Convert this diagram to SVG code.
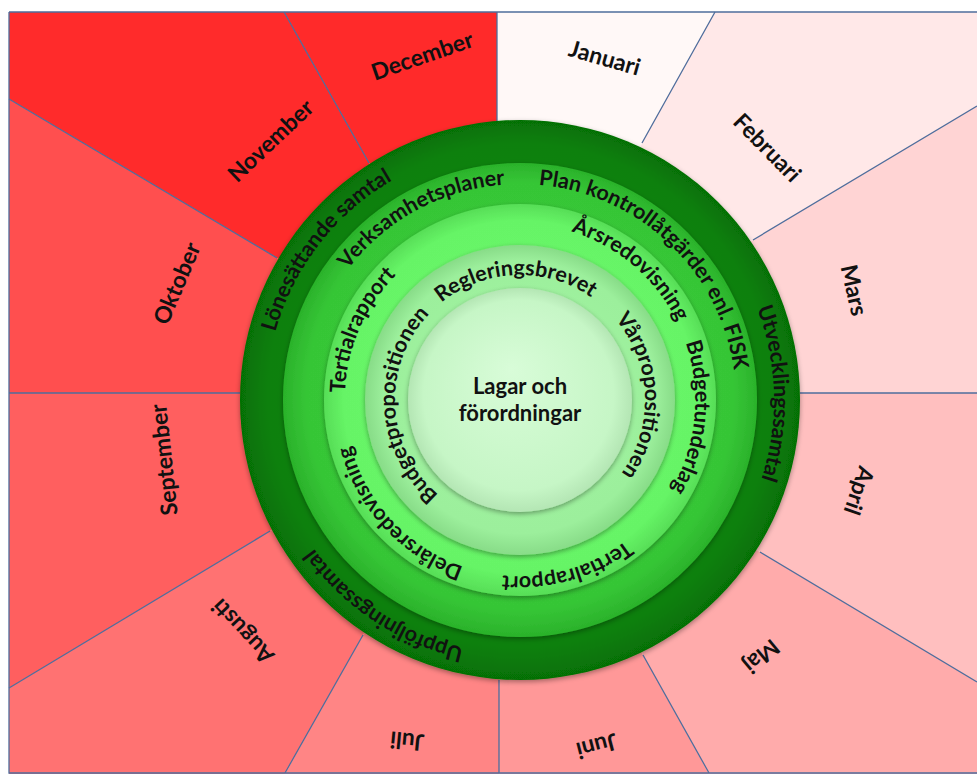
<svg xmlns="http://www.w3.org/2000/svg" width="977" height="774" viewBox="0 0 977 774">
<style>
.mo{font-family:Lato,"Liberation Sans",sans-serif;font-weight:700;font-size:23px;fill:#111;text-anchor:middle;dominant-baseline:central}
.rt{font-family:Lato,"Liberation Sans",sans-serif;font-weight:700;font-size:21.5px;fill:#111;text-anchor:middle}
.ct{font-family:Lato,"Liberation Sans",sans-serif;font-weight:700;font-size:22px;fill:#111;text-anchor:middle}
.sec{stroke:none}
.div{stroke:#4f6d9c;stroke-width:1.3;fill:none}
</style>
<defs>
<filter id="sh" x="-10%" y="-10%" width="120%" height="120%">
<feDropShadow dx="0" dy="2" stdDeviation="2.5" flood-color="#000" flood-opacity="0.35"/>
</filter>
<radialGradient id="g1" cx="50%" cy="50%" r="50%" fx="50%" fy="42%">
<stop offset="0" stop-color="#118d11"/><stop offset="0.9" stop-color="#0a800a"/><stop offset="1" stop-color="#067006"/>
</radialGradient>
<radialGradient id="g2" cx="50%" cy="50%" r="50%" fx="50%" fy="42%">
<stop offset="0" stop-color="#3ccc3c"/><stop offset="0.9" stop-color="#36c636"/><stop offset="1" stop-color="#2bb22b"/>
</radialGradient>
<radialGradient id="g3" cx="50%" cy="50%" r="50%" fx="50%" fy="42%">
<stop offset="0" stop-color="#6bfb6b"/><stop offset="0.9" stop-color="#66f466"/><stop offset="1" stop-color="#57de57"/>
</radialGradient>
<radialGradient id="g4" cx="50%" cy="50%" r="50%" fx="50%" fy="42%">
<stop offset="0" stop-color="#a3f5a3"/><stop offset="0.88" stop-color="#9cef9c"/><stop offset="1" stop-color="#88dc88"/>
</radialGradient>
<radialGradient id="g5" cx="50%" cy="50%" r="50%" fx="46%" fy="36%">
<stop offset="0" stop-color="#d8fcd8"/><stop offset="0.85" stop-color="#c6f6c6"/><stop offset="1" stop-color="#b4e6b4"/>
</radialGradient>
<path id="p1" d="M 266,400 A 254 254 0 1 1 774,400 A 254 254 0 1 1 266,400"/>
<path id="p2" d="M 304,400 A 216 216 0 1 1 736,400 A 216 216 0 1 1 304,400"/>
<path id="p3" d="M 345.67,415.25 A 175 175 0 1 1 694.33,384.75 A 175 175 0 1 1 345.67,415.25"/>
<path id="p4" d="M 520,525 A 125 125 0 1 1 520,275 A 125 125 0 1 1 520,525"/>
</defs>
<rect width="977" height="774" fill="#fff"/>
<g id="months">
<g id="nov"><polygon class="sec" fill="#ff2b2b" points="9,12 284,12 369,163 520,400 277,258 9,99"/><text class="mo" transform="translate(270,140) rotate(-43.5)">November</text></g>
<g id="dec"><polygon class="sec" fill="#ff2a2a" points="284,12 497,12 497,121 520,400 369,163"/><text class="mo" transform="translate(422,55) rotate(-19)">December</text></g>
<g id="jan"><polygon class="sec" fill="#fff8f7" points="497,12 715,12 642,143 520,400 497,121"/><text class="mo" transform="translate(605,57) rotate(16)">Januari</text></g>
<g id="feb"><polygon class="sec" fill="#ffe8e8" points="715,12 977,12 977,106 753,240 520,400 642,143"/><text class="mo" transform="translate(768,147) rotate(45.5)">Februari</text></g>
<g id="mar"><polygon class="sec" fill="#ffd4d4" points="977,106 977,393 800,393 520,400 753,240"/><text class="mo" transform="translate(855,290) rotate(77.5)">Mars</text></g>
<g id="apr"><polygon class="sec" fill="#ffbfbf" points="977,393 977,682 760,552 520,400 800,393"/><text class="mo" transform="translate(860,491) rotate(109)">April</text></g>
<g id="maj"><polygon class="sec" fill="#ffabab" points="977,682 977,774 709,774 643,655 520,400 760,552"/><text class="mo" transform="translate(762,657) rotate(140.5)">Maj</text></g>
<g id="jun"><polygon class="sec" fill="#ff9898" points="709,774 499,774 499,680 520,400 643,655"/><text class="mo" transform="translate(597,747) rotate(165.5)">Juni</text></g>
<g id="jul"><polygon class="sec" fill="#ff8585" points="499,774 285,774 363,635 520,400 499,680"/><text class="mo" transform="translate(407,742) rotate(185.5)">Juli</text></g>
<g id="aug"><polygon class="sec" fill="#ff7272" points="285,774 9,774 9,688 270,531 520,400 363,635"/><text class="mo" transform="translate(242,632) rotate(227)">Augusti</text></g>
<g id="sep"><polygon class="sec" fill="#ff5f5f" points="9,688 9,393 240,393 520,400 270,531"/><text class="mo" transform="translate(163,460) rotate(-96)">September</text></g>
<g id="okt"><polygon class="sec" fill="#ff4f4f" points="9,393 9,99 277,258 520,400 240,393"/><text class="mo" transform="translate(176,283) rotate(-67)">Oktober</text></g>
</g>
<g id="dividers" class="div">
<path d="M9,12 H977 M9,12 V773 H977"/>
<path d="M284,12 L369,163 M497,12 L497,121 M715,12 L642,143 M977,106 L753,240 M977,393 L800,393 M977,682 L760,552 M709,773 L643,655 M499,773 L499,680 M285,773 L363,635 M9,688 L270,531 M9,393 L240,393 M9,99 L277,258"/>
</g>
<g id="ring-outer">
<circle cx="520" cy="400" r="280" fill="url(#g1)" filter="url(#sh)"/>
<text class="rt"><textPath href="#p1" startOffset="167">Lönesättande samtal</textPath></text>
<text class="rt"><textPath href="#p1" startOffset="791">Utvecklingssamtal</textPath></text>
<text class="rt"><textPath href="#p1" startOffset="1345">Uppföljningssamtal</textPath></text>
</g>
<g id="ring-2">
<circle cx="520" cy="400" r="237" fill="url(#g2)" filter="url(#sh)"/>
<text class="rt"><textPath href="#p2" startOffset="232">Verksamhetsplaner</textPath></text>
<text class="rt"><textPath href="#p2" startOffset="503">Plan kontrollåtgärder enl. FISK</textPath></text>
</g>
<g id="ring-3">
<circle cx="520" cy="400" r="196" fill="url(#g3)" filter="url(#sh)"/>
<text class="rt"><textPath href="#p3" startOffset="88">Tertialrapport</textPath></text>
<text class="rt"><textPath href="#p3" startOffset="415">Årsredovisning</textPath></text>
<text class="rt"><textPath href="#p3" startOffset="585">Budgetunderlag</textPath></text>
<text class="rt"><textPath href="#p3" startOffset="795">Tertialrapport</textPath></text>
<text class="rt"><textPath href="#p3" startOffset="987">Delårsredovisning</textPath></text>
</g>
<g id="ring-4">
<circle cx="520" cy="400" r="155" fill="url(#g4)" filter="url(#sh)"/>
<text class="rt"><textPath href="#p4" startOffset="190">Budgetpropositionen</textPath></text>
<text class="rt"><textPath href="#p4" startOffset="388">Regleringsbrevet</textPath></text>
<text class="rt"><textPath href="#p4" startOffset="584">Vårpropositionen</textPath></text>
</g>
<g id="center">
<circle cx="520" cy="400" r="112" fill="url(#g5)" filter="url(#sh)"/>
<text class="ct" x="520" y="394">Lagar och</text>
<text class="ct" x="520" y="421">förordningar</text>
</g>
</svg>
